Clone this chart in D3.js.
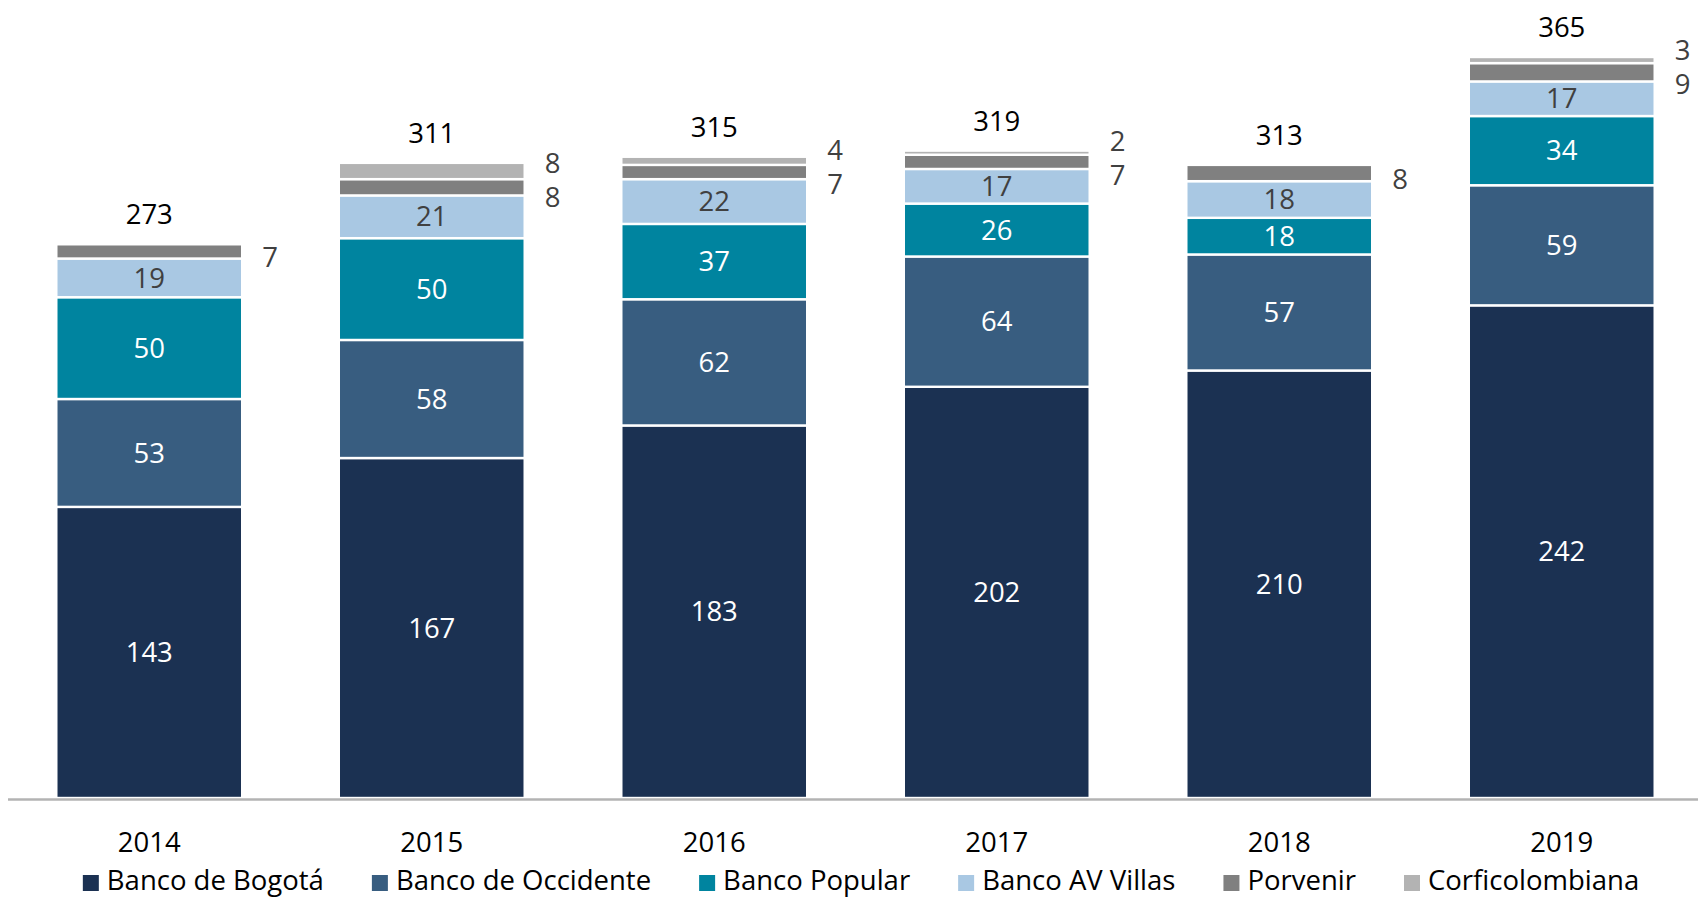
<!DOCTYPE html>
<html>
<head>
<meta charset="utf-8">
<script src="https://cdn.jsdelivr.net/npm/d3@7"></script>
<style>
    body { margin: 0; background: #fff; }
    text { font-family: "Open Sans", sans-serif; }
</style>
</head>
<body>
<div id="chart"></div>
<script>
const years = ['2014', '2015', '2016', '2017', '2018', '2019'];
const seriesNames = ['Banco de Bogotá', 'Banco de Occidente', 'Banco Popular',
                     'Banco AV Villas', 'Porvenir', 'Corficolombiana'];

const bogota    = [143, 167, 183, 202, 210, 242];
const occidente = [53, 58, 62, 64, 57, 59];
const popular   = [50, 50, 37, 26, 18, 34];
const avVillas  = [19, 21, 22, 17, 18, 17];
const porvenir  = [7, 8, 7, 7, 8, 9];
const corfi     = [0, 8, 4, 2, 0, 3];
const totals    = [273, 311, 315, 319, 313, 365];

const seriesValues = [bogota, occidente, popular, avVillas, porvenir, corfi];
const colors = ['#1B3152', '#385D80', '#00849F', '#A9C8E3', '#808080', '#B3B3B3'];
const labelColors = ['#fff', '#fff', '#fff', '#404040', '#404040', '#404040'];

const W = 1698, H = 898;
const baseY = 798;
const fontSize = "27.5px";

const table = years.map((y, i) => {
    const row = {year: y};
    seriesNames.forEach((s, j) => row[s] = seriesValues[j][i]);
    return row;
});

const svg = d3.select("#chart")
              .append("svg")
              .attr("width", W)
              .attr("height", H);

// X axis
const xScale = d3.scaleBand()
                 .domain(years)
                 .range([8, 1703])
                 .paddingInner(.342)
                 .paddingOuter(.171);

const yScale = d3.scaleLinear()
                 .domain([0, 392])
                 .range([baseY, 0]);

const stacked = d3.stack().keys(seriesNames)(table);

// Bars
const layers = svg.append("g")
                  .selectAll("g")
                  .data(stacked)
                  .join("g")
                  .attr("fill", (_, i) => colors[i]);

layers.selectAll("rect")
      .data(d => d.filter(s => s[1] - s[0] > 0))
      .join("rect")
      .attr("x", d => xScale(d.data.year))
      .attr("y", d => yScale(d[1]))
      .attr("width", xScale.bandwidth())
      .attr("height", d => yScale(d[0]) - yScale(d[1]))
      .attr("stroke", "#fff")
      .attr("stroke-width", 2.4);

// axis line
svg.append('g')
   .attr("transform", `translate(0, ${baseY + 1.5})`)
   .call(d3.axisBottom(xScale).tickSize(0).tickPadding(0).tickFormat(""))
   .call(g => {
        g.select(".domain")
         .attr("d", `M8,0H${W}`)
         .attr("stroke", "#B3B3B3")
         .attr("stroke-width", 2.5);
   });

svg.append("g")
   .selectAll("text")
   .data(years)
   .join("text")
   .attr("x", d => xScale(d) + xScale.bandwidth() / 2)
   .attr("y", 852)
   .attr("text-anchor", "middle")
   .style("font-size", fontSize)
   .attr("fill", "#000")
   .text(d => d);

// Inside labels (first four series)
stacked.slice(0, 4).forEach((layer, i) => {
    svg.append("g")
       .selectAll("text")
       .data(layer)
       .join("text")
       .attr("x", d => xScale(d.data.year) + xScale.bandwidth() / 2)
       .attr("y", d => yScale((d[0] + d[1]) / 2))
       .attr("dy", "0.35em")
       .attr("text-anchor", "middle")
       .attr("fill", labelColors[i])
       .style("font-size", fontSize)
       .text(d => d[1] - d[0]);
});

// Outside labels for Porvenir and Corficolombiana
const outside = [];
years.forEach((y, i) => {
    const p = stacked[4][i], c = stacked[5][i];
    const pc = yScale((p[0] + p[1]) / 2);
    const x = xScale(y) + xScale.bandwidth() + 28;
    if (c[1] - c[0] > 0) {
        const cc = yScale((c[0] + c[1]) / 2);
        const mid = (pc + cc) / 2 + 1;
        outside.push({x: x, y: mid + 17, v: p[1] - p[0]});
        outside.push({x: x, y: mid - 17, v: c[1] - c[0]});
    } else {
        outside.push({x: x, y: pc + 6, v: p[1] - p[0]});
    }
});

svg.append("g")
   .selectAll("text")
   .data(outside)
   .join("text")
   .attr("x", d => d.x)
   .attr("y", d => d.y)
   .attr("dy", "0.35em")
   .attr("text-anchor", "middle")
   .attr("fill", "#404040")
   .style("font-size", fontSize)
   .text(d => d.v);

// Totals
svg.append("g")
   .selectAll("text")
   .data(years)
   .join("text")
   .attr("x", d => xScale(d) + xScale.bandwidth() / 2)
   .attr("y", (_, i) => yScale(stacked[5][i][1]) - 20)
   .attr("text-anchor", "middle")
   .attr("fill", "#000")
   .style("font-size", fontSize)
   .text((_, i) => totals[i]);

// Legend
const legend = svg.append("g");
let lx = 0;
seriesNames.forEach((name, i) => {
    const item = legend.append("g").attr("transform", `translate(${lx}, 0)`);
    item.append("rect")
        .attr("x", 0)
        .attr("y", 875)
        .attr("width", 16)
        .attr("height", 16)
        .attr("fill", colors[i]);
    const t = item.append("text")
                  .attr("x", 24)
                  .attr("y", 890)
                  .attr("fill", "#000")
                  .style("font-size", fontSize)
                  .text(name);
    lx += 24 + t.node().getComputedTextLength() + 48;
});
const legendWidth = lx - 48;
legend.attr("transform", `translate(${861 - legendWidth / 2}, 0)`);
</script>
</body>
</html>
